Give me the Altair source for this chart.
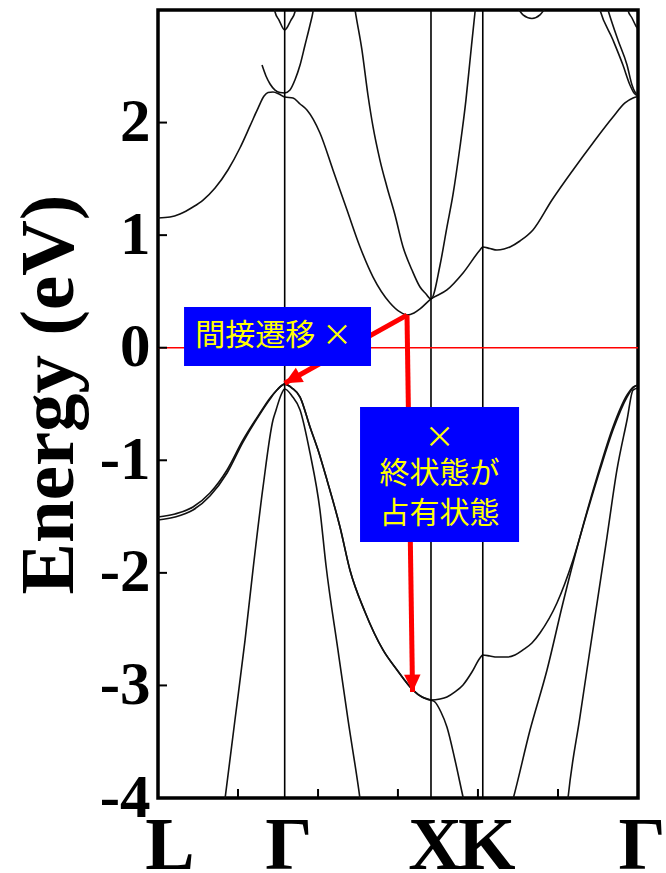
import math
import altair as alt
import pandas as pd

# Path L–Γ–X–K–Γ, wave vector in units of 2π/a
sym_k = [0.0, 0.866, 1.866, 2.220, 3.281]
sym_names = ["L", "Γ", "X", "K", "Γ"]
minor_k = [0.547, 1.094, 1.640, 2.187, 2.734]
energy_ticks = [-4, -3, -2, -1, 0, 1, 2]

# ---- conduction bands (eV) ----
cb1_k = [0.0, 0.082, 0.150, 0.239, 0.308, 0.390, 0.478, 0.560, 0.629, 0.684, 0.725, 0.752, 0.786, 0.827, 0.866,
         0.923, 0.971, 1.018, 1.107, 1.196, 1.292, 1.381, 1.470, 1.586, 1.654, 1.702, 1.750, 1.791, 1.866,
         1.975, 2.085, 2.201, 2.220,
         2.269, 2.317, 2.365, 2.406, 2.474, 2.563, 2.693, 2.837, 2.973, 3.110, 3.192, 3.247, 3.281]
cb1_e = [1.152, 1.161, 1.188, 1.250, 1.312, 1.419, 1.579, 1.774, 1.970, 2.129, 2.236, 2.267, 2.272, 2.254, 2.227,
         2.218, 2.165, 2.111, 1.907, 1.579, 1.223, 0.895, 0.628, 0.398, 0.318, 0.291, 0.309, 0.345, 0.433,
         0.513, 0.664, 0.868, 0.895,
         0.881, 0.868, 0.877, 0.895, 0.948, 1.046, 1.312, 1.579, 1.819, 2.049, 2.174, 2.218, 2.232]

cb2_k = [1.340, 1.347, 1.394, 1.435, 1.470, 1.517, 1.565, 1.620, 1.675, 1.736, 1.791, 1.832, 1.866,
         1.928, 1.975, 2.016, 2.064, 2.105, 2.133, 2.167, 2.174]
cb2_e = [3.06, 3.000, 2.645, 2.245, 1.961, 1.667, 1.428, 1.179, 0.895, 0.690, 0.539, 0.477, 0.433,
         0.735, 1.072, 1.357, 1.783, 2.201, 2.556, 2.982, 3.06]

cb3_k = [0.711, 0.738, 0.766, 0.800, 0.834, 0.866, 0.902, 0.936, 0.971, 1.005, 1.039, 1.059, 1.066]
cb3_e = [2.511, 2.414, 2.343, 2.289, 2.267, 2.263, 2.289, 2.378, 2.511, 2.689, 2.867, 2.982, 3.04]

cb4_k = [0.793, 0.800, 0.827, 0.866, 0.909, 0.936, 0.943]
cb4_e = [3.036, 2.982, 2.911, 2.822, 2.911, 2.982, 3.036]

cb5_k = [3.206, 3.212, 3.240, 3.267, 3.281]
cb5_e = [3.044, 3.000, 2.929, 2.858, 2.831]

cb6_k = [3.008, 3.021, 3.110, 3.178, 3.226, 3.254, 3.281]
cb6_e = [3.062, 3.000, 2.733, 2.511, 2.334, 2.263, 2.236]

cb7_k = [3.062, 3.076, 3.144, 3.206, 3.240, 3.260, 3.281]
cb7_e = [3.062, 3.000, 2.733, 2.511, 2.334, 2.272, 2.245]

cb8_k = [2.440, 2.468, 2.495, 2.556, 2.611, 2.638, 2.666]
cb8_e = [3.053, 3.000, 2.956, 2.924, 2.956, 3.000, 3.053]

# ---- valence bands (eV) ----
vb1_k = [0.0, 0.116, 0.239, 0.355, 0.472, 0.581, 0.697, 0.766, 0.813, 0.866,
         0.916, 0.971, 1.039, 1.094, 1.155, 1.244, 1.312, 1.415, 1.538, 1.634, 1.743, 1.805, 1.866,
         1.928, 1.975, 2.030, 2.085, 2.146, 2.201, 2.220,
         2.269, 2.317, 2.385, 2.440, 2.495, 2.556, 2.611, 2.727, 2.837, 2.932, 3.021, 3.110, 3.206, 3.247, 3.281]
vb1_e = [-1.504, -1.477, -1.415, -1.291, -1.086, -0.820, -0.580, -0.447, -0.376, -0.323,
         -0.358, -0.438, -0.704, -0.909, -1.175, -1.593, -1.975, -2.348, -2.685, -2.863, -3.041, -3.103, -3.130,
         -3.121, -3.103, -3.058, -2.996, -2.881, -2.756, -2.730,
         -2.739, -2.748, -2.748, -2.730, -2.685, -2.623, -2.534, -2.268, -1.886, -1.468, -1.086, -0.731, -0.438,
         -0.358, -0.331]

vb2_k = [0.0, 0.116, 0.239, 0.355, 0.472, 0.581, 0.697, 0.766, 0.813, 0.866,
         0.916, 0.971, 1.039, 1.094, 1.155, 1.244, 1.312, 1.415, 1.538, 1.634, 1.743, 1.805, 1.866,
         1.893, 1.934, 1.975, 2.030, 2.085, 2.105]
vb2_e = [-1.530, -1.504, -1.442, -1.317, -1.113, -0.838, -0.589, -0.456, -0.376, -0.323,
         -0.358, -0.438, -0.704, -0.909, -1.175, -1.593, -1.975, -2.348, -2.685, -2.863, -3.041, -3.103, -3.130,
         -3.147, -3.236, -3.369, -3.662, -3.991, -4.107]

vb3_k = [2.406, 2.427, 2.543, 2.659, 2.768, 2.884, 3.001, 3.110, 3.206, 3.247, 3.281]
vb3_e = [-4.107, -4.009, -3.396, -2.863, -2.268, -1.682, -1.149, -0.704, -0.420, -0.349, -0.331]

vb4_k = [0.431, 0.458, 0.526, 0.595, 0.649, 0.718, 0.786, 0.807, 0.841, 0.866,
         0.916, 0.971, 1.039, 1.107, 1.148, 1.230, 1.299, 1.381, 1.408]
vb4_e = [-4.284, -4.009, -3.307, -2.597, -1.975, -1.237, -0.642, -0.553, -0.420, -0.367,
         -0.429, -0.553, -0.935, -1.442, -1.930, -2.685, -3.307, -4.009, -4.284]

vb5_k = [2.782, 2.802, 2.884, 2.932, 3.001, 3.069, 3.137, 3.206, 3.247, 3.281]
vb5_e = [-4.284, -4.009, -3.281, -2.863, -2.268, -1.682, -1.086, -0.642, -0.376, -0.358]

bands = {
    "cb1": (cb1_k, cb1_e), "cb2": (cb2_k, cb2_e), "cb3": (cb3_k, cb3_e), "cb4": (cb4_k, cb4_e),
    "cb5": (cb5_k, cb5_e), "cb6": (cb6_k, cb6_e), "cb7": (cb7_k, cb7_e), "cb8": (cb8_k, cb8_e),
    "vb1": (vb1_k, vb1_e), "vb2": (vb2_k, vb2_e), "vb3": (vb3_k, vb3_e), "vb4": (vb4_k, vb4_e),
    "vb5": (vb5_k, vb5_e),
}

rows = []
for name, (ks, es) in bands.items():
    for i, (k, e) in enumerate(zip(ks, es)):
        rows.append({"band": name, "k": k, "E": e, "i": i})
band_df = pd.DataFrame(rows)

# ---- transitions: conduction minimum -> Γ top, conduction minimum -> straight down ----
arrow_start_k = [1.702, 1.702]
arrow_start_e = [0.29, 0.29]
arrow_end_k = [0.866, 1.740]
arrow_end_e = [-0.316, -3.058]

# ---- labelled boxes ----
box_k = [0.178, 1.381]
box_k2 = [1.456, 2.468]
box_e = [0.362, -0.527]
box_e2 = [-0.162, -1.726]

note_k = [0.79, 1.924, 1.924, 1.924]
note_e = [0.10, -0.80, -1.125, -1.475]
note_text = ["間接遷移 ×", "×", "終状態が", "占有状態"]

W, H = 480, 788
K_MAX, E_MIN, E_MAX = 3.281, -4, 3
px_k = W / K_MAX
px_e = H / (E_MAX - E_MIN)

xs = alt.Scale(domain=[0, K_MAX], nice=False, zero=False)
ys = alt.Scale(domain=[E_MIN, E_MAX], nice=False, zero=False)
serif = "Liberation Serif"

y_axis = alt.Axis(
    values=energy_ticks, ticks=False, domain=False, grid=False,
    labelFont=serif, labelFontWeight="bold", labelFontSize=61, labelColor="black",
    labelPadding=8, labelExpr="datum.value < 0 ? '-' + abs(datum.value) : '' + datum.value",
    title="Energy (eV)", titleFont=serif, titleFontWeight="bold", titleFontSize=77,
    titleColor="black", titleAngle=-90, titleX=-86, titleY=384,
    titleBaseline="alphabetic", titleAlign="center",
)

X = lambda f="k": alt.X(f"{f}:Q", scale=xs, axis=None)
Y = lambda f="E": alt.Y(f"{f}:Q", scale=ys, axis=y_axis)

band_lines = alt.Chart(band_df).mark_line(
    clip=True, interpolate="monotone", color="#111111", strokeWidth=1.6
).encode(x=X(), y=Y(), detail="band:N", order="i:Q")

sym_df = pd.DataFrame({"k": sym_k[1:]})
sym_lines = alt.Chart(sym_df).mark_rule(color="black", strokeWidth=1.6).encode(x=X())

zero_df = pd.DataFrame({"E": [0]})
zero_line = alt.Chart(zero_df).mark_rule(color="#ff0000", strokeWidth=1.5).encode(y=Y())

ytick_df = pd.DataFrame({"E": energy_ticks})
yticks = alt.Chart(ytick_df).mark_rule(color="black", strokeWidth=2).encode(
    y=Y(), x=alt.value(0), x2=alt.value(9))

xtick_df = pd.DataFrame({"k": minor_k})
xticks = alt.Chart(xtick_df).mark_rule(color="black", strokeWidth=2).encode(
    x=X(), y=alt.value(H), y2=alt.value(H - 9))

arrow_df = pd.DataFrame({"k": arrow_start_k, "E": arrow_start_e, "k2": arrow_end_k, "E2": arrow_end_e})
arrow_df["ang"] = [
    math.degrees(math.atan2((k2 - k) * px_k, (e2 - e) * px_e)) % 360
    for k, e, k2, e2 in zip(arrow_start_k, arrow_start_e, arrow_end_k, arrow_end_e)
]
arrow_lines = alt.Chart(arrow_df).mark_rule(color="#ff0000", strokeWidth=5).encode(
    x=X(), y=Y(), x2="k2:Q", y2="E2:Q")
arrow_heads = alt.Chart(arrow_df).mark_point(
    shape="M0,0L0.95,2L-0.95,2Z", filled=True, color="#ff0000", opacity=1, size=300, strokeWidth=0
).encode(x=X("k2"), y=Y("E2"), angle=alt.Angle("ang:Q", scale=None))

box_df = pd.DataFrame({"k": box_k, "k2": box_k2, "E": box_e, "E2": box_e2})
boxes = alt.Chart(box_df).mark_rect(color="#0000ff").encode(x=X(), x2="k2:Q", y=Y(), y2="E2:Q")

note_df = pd.DataFrame({"k": note_k, "E": note_e, "t": note_text})
notes = alt.Chart(note_df).mark_text(
    font="Noto Sans CJK JP", fontSize=30, color="#ffff00", align="center", baseline="middle"
).encode(x=X(), y=Y(), text="t:N")

lab_df = pd.DataFrame({"k": sym_k, "name": sym_names})
sym_labels = alt.Chart(lab_df).transform_filter("datum.name != 'L'").mark_text(
    font=serif, fontWeight="bold", fontSize=74, color="black", align="center",
    baseline="alphabetic", dx=4
).encode(x=X(), y=alt.value(H + 71), text="name:N")
l_label = alt.Chart(lab_df).transform_filter("datum.name == 'L'").mark_text(
    font=serif, fontWeight="bold", fontSize=74, color="black", align="center",
    baseline="alphabetic", dx=12
).encode(x=X(), y=alt.value(H + 71), text="name:N")

chart = alt.layer(
    band_lines, sym_lines, zero_line, yticks, xticks, arrow_lines, arrow_heads,
    boxes, notes, sym_labels, l_label,
).properties(
    width=W, height=H,
    padding={"left": 158, "top": 10, "right": 28, "bottom": 75},
    autosize=alt.AutoSizeParams(type="none"),
    background="white",
).configure_view(stroke="black", strokeWidth=3.5)

chart.save("out.html", embed_options={"renderer": "svg", "actions": False})
